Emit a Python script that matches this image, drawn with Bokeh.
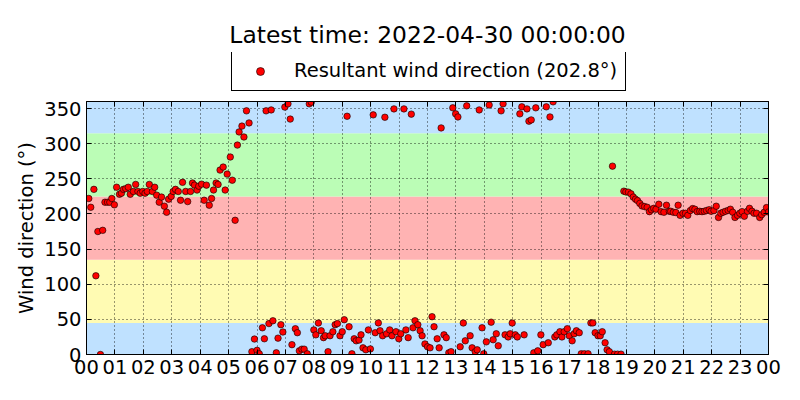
from bokeh.plotting import figure
from bokeh.layouts import column
from bokeh.models import (BoxAnnotation, Legend, LegendItem, LinearAxis, FixedTicker,
                          Title, Range1d, ColumnDataSource)
from bokeh.embed import file_html
from bokeh.resources import INLINE

title_text = "Latest time: 2022-04-30 00:00:00"
series_name = "Resultant wind direction"
latest_value = 202.8
y_label = "Wind direction (°)"

hour_ticks = list(range(25))
hour_labels = ["00", "01", "02", "03", "04", "05", "06", "07", "08", "09", "10", "11",
               "12", "13", "14", "15", "16", "17", "18", "19", "20", "21", "22", "23", "00"]
y_ticks = [0, 50, 100, 150, 200, 250, 300, 350]

band_lower = [0, 45, 135, 225, 315]
band_upper = [45, 135, 225, 315, 360]
band_colors = ["#bfe1ff", "#fffbb3", "#ffb3b3", "#bbfdb6", "#bfe1ff"]

hours = [
    0.08, 0.15, 0.26, 0.33, 0.40, 0.49, 0.57, 0.65, 0.74, 0.82, 0.89, 0.98,
    1.06, 1.16, 1.23, 1.30, 1.38, 1.47, 1.54, 1.65, 1.73, 1.81, 1.89, 1.98,
    2.06, 2.14, 2.21, 2.32, 2.40, 2.47, 2.56, 2.64, 2.74, 2.82, 2.89, 2.98,
    3.05, 3.13, 3.23, 3.31, 3.38, 3.49, 3.56, 3.66, 3.73, 3.80, 3.89, 3.95,
    4.05, 4.14, 4.22, 4.32, 4.40, 4.47, 4.56, 4.63, 4.70, 4.81, 4.88, 4.95,
    5.06, 5.13, 5.23, 5.31, 5.37, 5.47, 5.54, 5.63, 5.72, 5.82, 5.91,
    6.00, 6.08, 6.19, 6.26, 6.32, 6.42, 6.50, 6.56, 6.68, 6.74, 6.84, 6.91, 6.98,
    7.09, 7.17, 7.23, 7.35, 7.42, 7.49, 7.58, 7.66, 7.77, 7.84, 7.91,
    8.00, 8.07, 8.16, 8.26, 8.34, 8.40, 8.50, 8.57, 8.67, 8.75, 8.83, 8.92,
    9.00, 9.07, 9.17, 9.24, 9.34, 9.42, 9.49, 9.59, 9.66, 9.73, 9.83, 9.92, 9.99,
    10.09, 10.16, 10.27, 10.33, 10.42, 10.50, 10.56, 10.67, 10.75, 10.82, 10.89, 10.99,
    11.06, 11.17, 11.24, 11.32, 11.43, 11.49, 11.56, 11.66, 11.74, 11.81, 11.91,
    12.00, 12.09, 12.16, 12.23, 12.34, 12.41, 12.48, 12.58, 12.66, 12.75, 12.83, 12.89, 12.99,
    13.07, 13.15, 13.26, 13.33, 13.38, 13.50, 13.57, 13.68, 13.75, 13.82, 13.92, 13.98,
    14.07, 14.17, 14.24, 14.31, 14.42, 14.49, 14.59, 14.66, 14.73, 14.84, 14.91, 14.98,
    15.09, 15.16, 15.25, 15.32, 15.40, 15.50, 15.57, 15.65, 15.74, 15.81, 15.88, 15.99,
    16.07, 16.18, 16.25, 16.31, 16.42, 16.48, 16.55, 16.66, 16.73, 16.81, 16.92, 16.99,
    17.09, 17.16, 17.24, 17.34, 17.41, 17.52, 17.65, 17.75, 17.82, 17.90,
    18.00, 18.08, 18.15, 18.25, 18.32, 18.40, 18.51, 18.58, 18.69, 18.81, 18.91, 18.98,
    19.07, 19.16, 19.24, 19.32, 19.39, 19.47, 19.55, 19.64, 19.73, 19.81, 19.88, 19.96,
    20.04, 20.14, 20.22, 20.32, 20.41, 20.51, 20.56, 20.65, 20.74, 20.82, 20.89, 20.99,
    21.08, 21.16, 21.25, 21.33, 21.41, 21.49, 21.58, 21.66, 21.74, 21.82, 21.91, 21.98,
    22.08, 22.16, 22.24, 22.32, 22.40, 22.49, 22.58, 22.66, 22.74, 22.82, 22.91, 22.99,
    23.07, 23.15, 23.26, 23.33, 23.42, 23.49, 23.58, 23.69, 23.76, 23.85, 23.93, 24.00,
]
directions = [
    222, 209.5, 235, 112, 175, 0, 176.7, 216.7, 216.7, 216.7, 222, 213,
    238, 228, 229.5, 235, 236, 238, 228, 232, 242, 232, 229.5, 232,
    229.5, 232, 242, 232, 238, 226.7, 216.7, 224, 211, 202.4, 221, 225,
    232, 235, 232, 219.5, 245, 232, 217.6, 232, 244, 241, 234, 239.5,
    242.4, 219.5, 241, 212.4, 222, 234, 244, 242, 262.4, 266.7, 234, 256.7,
    281, 248, 191, 298, 316.7, 325, 309.5, 346.7, 329.5, 4, 22,
    6, 1, 38, 22.4, 346.7, 44, 348, 48, 2.4, 23.3, 42.4, 32, 352,
    356.7, 335, 14, 36.7, 31, 5.2, 7.6, 7.6, 1, 356.7, 359,
    35, 28, 44.8, 33.8, 24, 26.7, 4, 26.7, 32.4, 42.4, 44, 26.7,
    32.4, 49.5, 339, 39.5, 1, 22.4, 19.5, 20.5, 28, 9.5, 6.7, 35, 8,
    341, 31, 45, 33.8, 26.7, 337.6, 29.5, 35, 26.7, 349.5, 32.4, 22.4,
    29.5, 349.5, 35, 24, 342, 38, 48, 42.4, 33.8, 26.7, 15,
    11, 9.5, 53.8, 39.5, 22.4, 9.5, 322.4, 28, 24, 2.4, 4, 351, 342.4,
    338, 11, 44.8, 19.5, 353.8, 26.7, 9.5, 4, 6.7, 348, 38, 1,
    18, 355, 46, 21, 29.5, 12.4, 346.7, 356.7, 28, 25, 29.5, 44.8,
    28, 25, 342.4, 352.4, 28, 349.5, 332, 333.8, 2.4, 351, 5.2, 28,
    14, 352.4, 16.7, 338, 359.5, 25, 28, 32.4, 25, 32.4, 36.7, 26.7,
    19.5, 29.5, 33.8, 31, 1, 1, 1, 45, 45, 31,
    26.7, 26.7, 32.4, 16.7, 6.7, 4, 268, 0.5, 0.5, 0.5, 232.4, 231.4,
    231, 228.6, 224, 221, 219, 215, 211.4, 210.5, 209.5, 203.3, 206, 208,
    206.7, 213.8, 203.3, 202.4, 212.4, 203.8, 203.8, 202.4, 202, 212.4, 198, 201,
    201, 198, 204.8, 207.6, 206.7, 203.3, 203.8, 203.3, 203.8, 204.8, 206, 203.8,
    204.8, 211, 195, 201, 202.4, 203.8, 205, 206.7, 202.4, 195, 198, 201,
    203.3, 196.7, 203.8, 208, 203.8, 201, 201, 195, 199, 202.4, 209, 202.8,
]

FONT = "DejaVu Sans"
MARKER = dict(fill_color="red", line_color="black", line_width=0.6)
LABEL_SIZE = "19.5px"

# ---------------- header: title + legend ----------------
head = figure(width=800, height=92, x_range=Range1d(0, 1), y_range=Range1d(0, 1),
              output_backend="svg", toolbar_location=None, title=None,
              x_axis_type=None, y_axis_type=None,
              min_border_left=86, min_border_right=32, min_border_top=52, min_border_bottom=0,
              background_fill_color="white", border_fill_color="white")
head.outline_line_color = None
head.xgrid.visible = False
head.ygrid.visible = False
# latest reading, outside the header's (hidden) ranges: only its legend swatch shows
legend_glyph = head.scatter(x=hours[-1:], y=directions[-1:], size=5, **MARKER)

legend = Legend(items=[LegendItem(label=f"{series_name} ({latest_value}°)",
                                  renderers=[legend_glyph])],
                location=(145, 1), orientation="horizontal",
                border_line_color="black", border_line_width=1, border_line_alpha=1,
                label_text_font=FONT, label_text_font_size=LABEL_SIZE, label_text_color="black",
                padding=8, glyph_width=40, glyph_height=20, label_standoff=14,
                margin=0, background_fill_color="white", background_fill_alpha=1)
head.add_layout(legend, "center")
head.add_layout(Title(text=title_text, align="center", text_font=FONT, text_font_size="23.4px",
                      text_font_style="normal", text_color="black", standoff=8), "above")

# ---------------- main plot ----------------
p = figure(width=800, height=308, x_range=Range1d(0, 24), y_range=Range1d(0, 360),
           output_backend="svg", toolbar_location=None, title=None,
           min_border_left=86, min_border_right=32, min_border_top=9, min_border_bottom=46,
           background_fill_color="white", border_fill_color="white")
p.outline_line_color = "black"
p.outline_line_width = 1
p.outline_line_alpha = 1

for lo, hi, col in zip(band_lower, band_upper, band_colors):
    p.add_layout(BoxAnnotation(bottom=lo, top=hi, fill_color=col, fill_alpha=1,
                               line_alpha=0, level="image"))

src = ColumnDataSource(data=dict(h=hours, d=directions))
p.scatter("h", "d", source=src, size=6.5, **MARKER)

p.xaxis.ticker = FixedTicker(ticks=hour_ticks)
p.xaxis.major_label_overrides = {t: lab for t, lab in zip(hour_ticks, hour_labels)}
p.yaxis.ticker = FixedTicker(ticks=y_ticks)
p.yaxis.axis_label = y_label
for ax in (p.xaxis[0], p.yaxis[0]):
    ax.major_tick_in = 5
    ax.major_tick_out = 0
    ax.minor_tick_line_color = None
    ax.axis_line_color = "black"
    ax.major_label_text_font = FONT
    ax.major_label_text_font_size = LABEL_SIZE
    ax.major_label_text_color = "black"
    ax.major_label_standoff = 5
    ax.axis_label_text_font = FONT
    ax.axis_label_text_font_size = LABEL_SIZE
    ax.axis_label_text_font_style = "normal"
    ax.axis_label_text_color = "black"
p.yaxis.axis_label_standoff = 3

for g in (p.xgrid[0], p.ygrid[0]):
    g.grid_line_color = "black"
    g.grid_line_dash = "1 3"
    g.grid_line_alpha = 0.8
    g.grid_line_width = 1
p.xgrid.ticker = FixedTicker(ticks=hour_ticks)
p.ygrid.ticker = FixedTicker(ticks=y_ticks)

right_axis = LinearAxis(ticker=FixedTicker(ticks=y_ticks),
                        major_label_overrides={t: "" for t in y_ticks},
                        major_label_text_color=None, major_tick_in=5, major_tick_out=0,
                        major_label_standoff=0, minor_tick_line_color=None,
                        axis_line_color="black")
p.add_layout(right_axis, "right")
top_axis = LinearAxis(ticker=FixedTicker(ticks=hour_ticks),
                      major_label_overrides={t: "" for t in hour_ticks},
                      major_label_text_color=None, major_tick_in=5, major_tick_out=0,
                      major_label_standoff=0, minor_tick_line_color=None,
                      axis_line_color="black")
p.add_layout(top_axis, "above")

layout = column(head, p, spacing=0)
open("out.html", "w").write(file_html(layout, INLINE))
